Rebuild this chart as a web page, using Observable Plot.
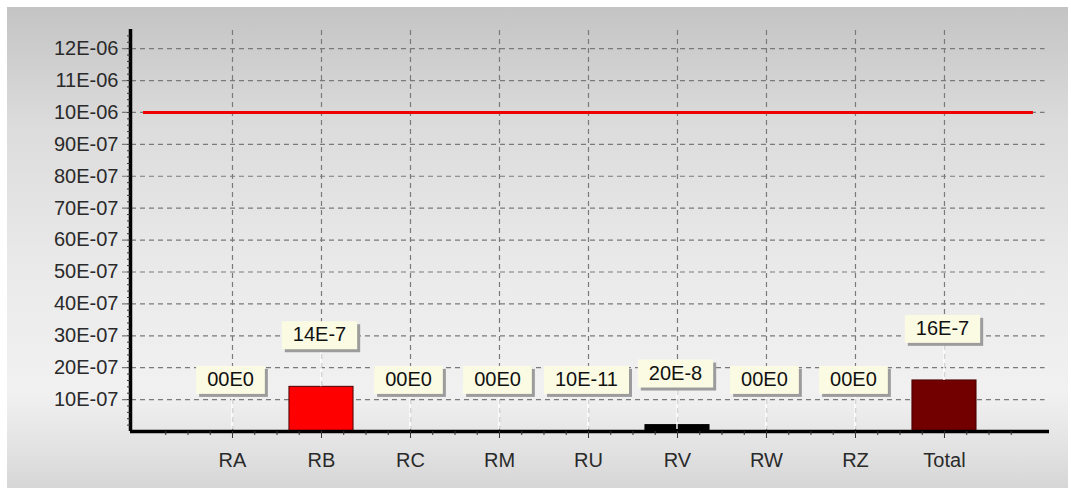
<!DOCTYPE html>
<html>
<head>
<meta charset="utf-8">
<script src="https://cdn.jsdelivr.net/npm/d3@7"></script>
<script src="https://cdn.jsdelivr.net/npm/@observablehq/plot@0.6"></script>
<style>
  html, body { margin: 0; padding: 0; background: #ffffff; }
  #wrap { position: relative; width: 1071px; height: 488px; overflow: hidden; }
  #bg { position: absolute; left: 7px; top: 7px; width: 1061px; height: 481px;
        background: linear-gradient(to bottom, #c4c4c4 0%, #dcdcdc 25%, #eaeaea 55%, #f1f1f1 80%, #e2e2e2 92%, #d6d6d6 100%); }
  #chart { position: absolute; left: 0; top: 0; }
  #chart svg { background: transparent; }
</style>
</head>
<body>
<div id="wrap"><div id="bg"></div><div id="chart"></div></div>
<script>
// ---- data ----
const categories = ["RA", "RB", "RC", "RM", "RU", "RV", "RW", "RZ", "Total"];
const values = [0, 1.4e-6, 0, 0, 1e-11, 2e-7, 0, 0, 1.6e-6];
const valueLabels = ["00E0", "14E-7", "00E0", "00E0", "10E-11", "20E-8", "00E0", "00E0", "16E-7"];
const barColors = ["#ff0000", "#ff0000", "#ff0000", "#ff0000", "#ff0000", "#000000", "#ff0000", "#ff0000", "#720000"];
const limitValue = 1e-5;
const yTicks = [1e-6, 2e-6, 3e-6, 4e-6, 5e-6, 6e-6, 7e-6, 8e-6, 9e-6, 1e-5, 1.1e-5, 1.2e-5];
const yTickLabels = ["10E-07", "20E-07", "30E-07", "40E-07", "50E-07", "60E-07", "70E-07", "80E-07", "90E-07", "10E-06", "11E-06", "12E-06"];

const data = categories.map((c, k) => ({
  i: k + 1, cat: c, v: values[k], label: valueLabels[k], color: barColors[k]
}));
const idx = data.map(d => d.i);
const minorTicks = d3.range(0.25, 10, 0.25).filter(t => Math.abs(t - Math.round(t)) > 1e-9);
const yMinor = d3.range(2e-7, 1.26e-5, 2e-7);
const xDomain = [-0.146, 10.18];
const yDomain = [0, 1.26e-5];
const gridDash = "5,4";
const gridColor = "#7a7a7a";
const font = "Liberation Sans, Arial, sans-serif";

const plot = Plot.plot({
  width: 1071,
  height: 488,
  marginLeft: 130,
  marginRight: 22,
  marginTop: 29,
  marginBottom: 57,
  style: { background: "transparent", fontFamily: font, fontSize: "20px", color: "#2a2a2a" },
  x: { type: "linear", domain: xDomain, axis: null, label: null },
  y: { type: "linear", domain: yDomain, axis: null, label: null },
  marks: [
    Plot.ruleY(yTicks, { x1: -0.236, x2: 10.13, stroke: gridColor, strokeWidth: 1.2, strokeDasharray: gridDash }),
    Plot.ruleX(idx, { y1: 0, y2: yDomain[1], stroke: gridColor, strokeWidth: 1.2, strokeDasharray: gridDash }),
    Plot.ruleY([limitValue], { x1: 0, x2: 10, stroke: "#ee0000", strokeWidth: 3 }),
    Plot.rectY(data.filter(d => d.v > 0), {
      x1: d => d.i - 0.36, x2: d => d.i + 0.36, y1: 0, y2: "v",
      fill: "color", stroke: d => d.color === "#000000" ? "#000" : "#4a0000", strokeWidth: 1
    }),
    Plot.ruleY([0], { stroke: "#000", strokeWidth: 3.5 }),
    Plot.ruleX([xDomain[0]], { stroke: "#000", strokeWidth: 3.5 }),
    Plot.axisX({ ticks: minorTicks, tickSize: 4, tickFormat: () => "", stroke: "#333", label: null }),
    Plot.axisX({
      ticks: idx, tickSize: 7, tickPadding: 14, label: null,
      tickFormat: t => categories[Math.round(t) - 1],
      fontSize: 20, fill: "#2a2a2a", stroke: "#333"
    }),
    Plot.axisY({ ticks: yMinor, tickSize: 3, tickFormat: () => "", stroke: "#333", label: null }),
    Plot.axisY({
      ticks: yTicks, tickSize: 0, tickPadding: 12, label: null,
      tickFormat: t => yTickLabels[yTicks.findIndex(u => Math.abs(u - t) < 1e-12)],
      fontSize: 20, fill: "#2a2a2a"
    }),
    Plot.text(data, {
      x: "i", y: "v", text: "label", dy: -52, dx: -2,
      fontSize: 20, fill: "#111"
    })
  ]
});

document.getElementById("chart").appendChild(plot);

// label boxes + white leader lines behind the value labels
const ns = "http://www.w3.org/2000/svg";
const svg = plot.tagName.toLowerCase() === "svg" ? plot : plot.querySelector("svg");
const yScale = plot.scale("y");
const xScale = plot.scale("x");
let labelGroup = null;
svg.querySelectorAll("g").forEach(gg => {
  const ts = Array.from(gg.children).filter(c => c.tagName.toLowerCase() === "text");
  if (ts.length === valueLabels.length && ts.every((t, k) => t.textContent === valueLabels[k])) labelGroup = gg;
});
if (labelGroup) {
  const sr = svg.getBoundingClientRect();
  const texts = Array.from(labelGroup.children).filter(c => c.tagName.toLowerCase() === "text");
  const boxes = document.createElementNS(ns, "g");
  labelGroup.parentNode.insertBefore(boxes, labelGroup);
  texts.forEach((t, k) => {
    const b = t.getBoundingClientRect();
    const padX = 11, h = 28;
    const bx = b.left - sr.left, bw = b.width;
    const cy = b.top - sr.top + b.height / 2 + 1;
    const x0 = bx - padX, w = bw + 2 * padX, y0 = cy - h / 2;
    const px = xScale.apply(data[k].i), py = yScale.apply(data[k].v);
    const ln = document.createElementNS(ns, "line");
    ln.setAttribute("x1", px); ln.setAttribute("x2", px);
    ln.setAttribute("y1", y0 + h);
    ln.setAttribute("y2", data[k].v > 1e-7 && data[k].color !== "#000000" ? py : yScale.apply(0) - 2);
    ln.setAttribute("stroke", "#ffffff"); ln.setAttribute("stroke-width", 1.4);
    boxes.appendChild(ln);
    const sh = document.createElementNS(ns, "rect");
    sh.setAttribute("x", x0 + 3); sh.setAttribute("y", y0 + 3);
    sh.setAttribute("width", w); sh.setAttribute("height", h);
    sh.setAttribute("fill", "#9c9c9c");
    boxes.appendChild(sh);
    const r = document.createElementNS(ns, "rect");
    r.setAttribute("x", x0); r.setAttribute("y", y0);
    r.setAttribute("width", w); r.setAttribute("height", h);
    r.setAttribute("fill", "#fbfbe4");
    boxes.appendChild(r);
  });
}
</script>
</body>
</html>
